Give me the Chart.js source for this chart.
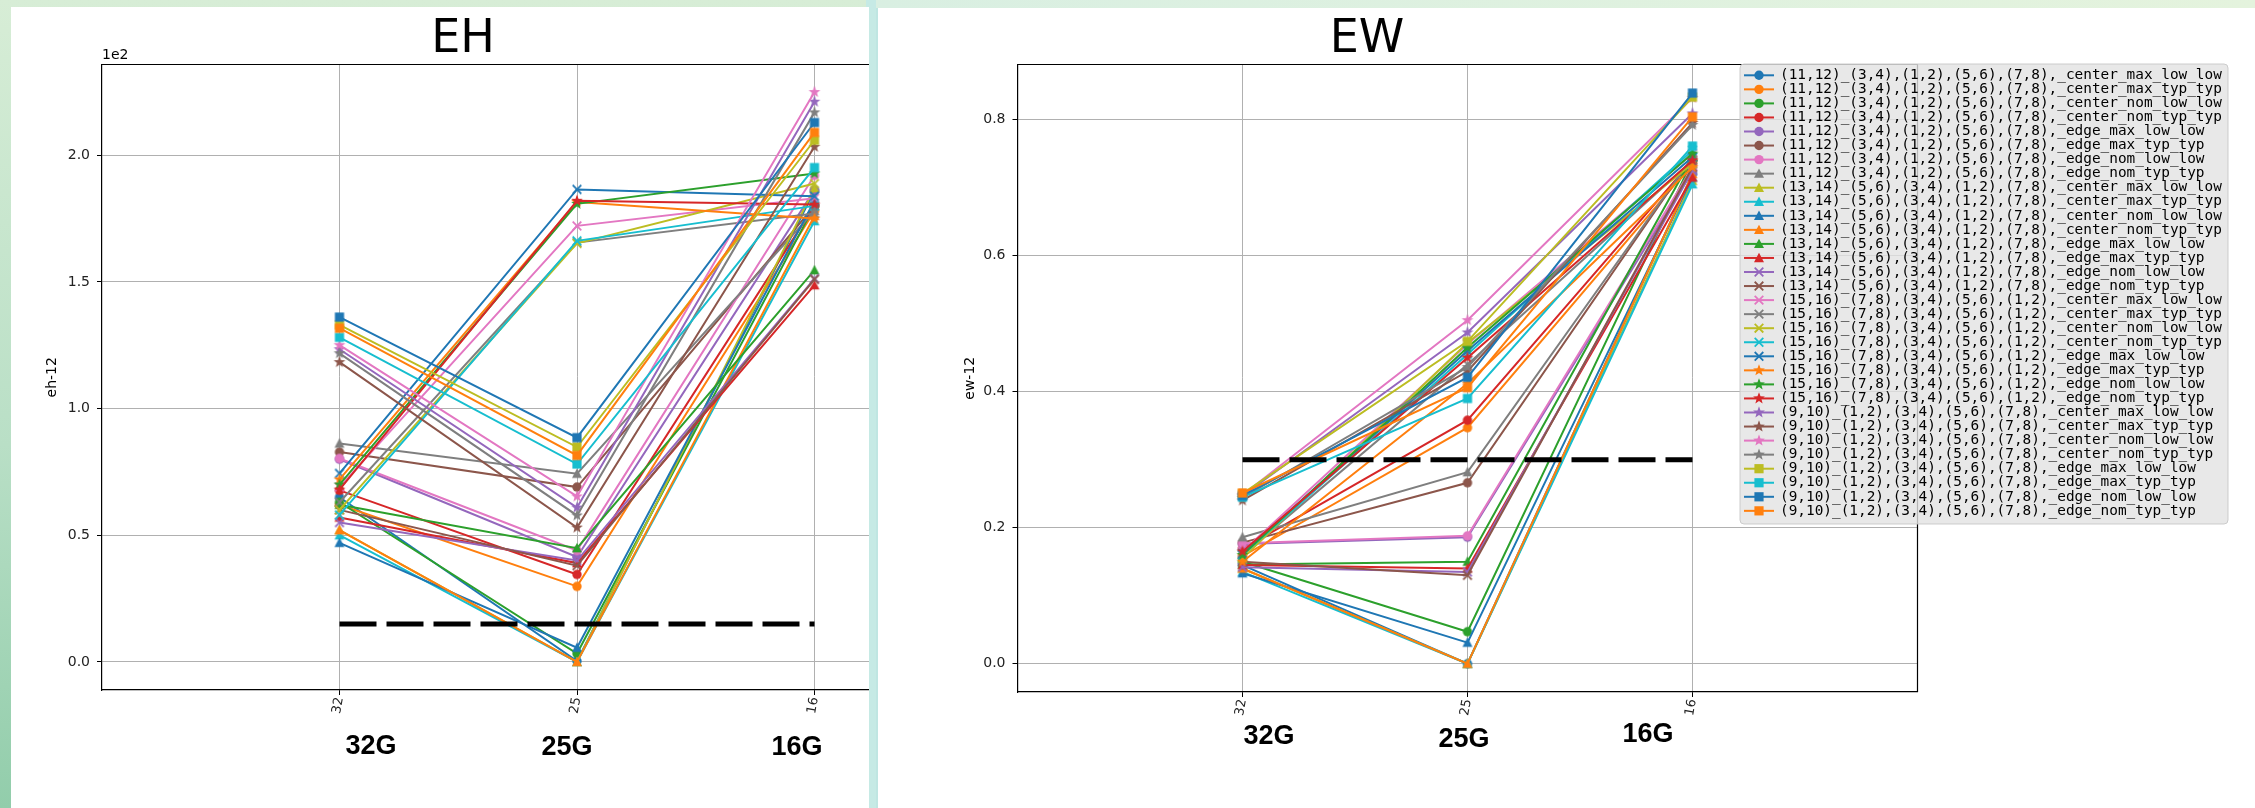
<!DOCTYPE html>
<html><head><meta charset="utf-8">
<script src="https://cdn.jsdelivr.net/npm/chart.js@4.4.0/dist/chart.umd.min.js"></script>
<style>
html,body{margin:0;padding:0;}
body{width:2255px;height:808px;overflow:hidden;position:relative;
 background:linear-gradient(180deg,#d7edd6 0%,#b9dfc6 55%,#92cdab 100%);}
#gap{position:absolute;left:866px;top:0;width:12px;height:808px;background:#c6eae5;}
#topr{position:absolute;left:876px;top:0;width:1379px;height:8px;background:linear-gradient(90deg,#d9efe2,#e4f3dd);}
.panel{position:absolute;background:#fff;overflow:hidden;}
#pl{left:11px;top:7px;width:858px;height:801px;}
#pr{left:876px;top:8px;width:1379px;height:800px;border-left:2px solid #bfe6e2;}
canvas{position:absolute;}
</style></head>
<body>
<div id="gap"></div><div id="topr"></div>
<div class="panel" id="pl"><canvas id="cl" width="2255" height="808" style="left:-11px;top:-7px;width:2255px;height:808px"></canvas></div>
<div class="panel" id="pr"><canvas id="cr" width="2255" height="808" style="left:-878px;top:-8px;width:2255px;height:808px"></canvas></div>
<script>
// ---------------- data ----------------
const categories = ['32', '25', '16'];
const groupLabels = ['32G', '25G', '16G'];
const seriesNames = [
 '(11,12)_(3,4),(1,2),(5,6),(7,8),_center_max_low_low',
 '(11,12)_(3,4),(1,2),(5,6),(7,8),_center_max_typ_typ',
 '(11,12)_(3,4),(1,2),(5,6),(7,8),_center_nom_low_low',
 '(11,12)_(3,4),(1,2),(5,6),(7,8),_center_nom_typ_typ',
 '(11,12)_(3,4),(1,2),(5,6),(7,8),_edge_max_low_low',
 '(11,12)_(3,4),(1,2),(5,6),(7,8),_edge_max_typ_typ',
 '(11,12)_(3,4),(1,2),(5,6),(7,8),_edge_nom_low_low',
 '(11,12)_(3,4),(1,2),(5,6),(7,8),_edge_nom_typ_typ',
 '(13,14)_(5,6),(3,4),(1,2),(7,8),_center_max_low_low',
 '(13,14)_(5,6),(3,4),(1,2),(7,8),_center_max_typ_typ',
 '(13,14)_(5,6),(3,4),(1,2),(7,8),_center_nom_low_low',
 '(13,14)_(5,6),(3,4),(1,2),(7,8),_center_nom_typ_typ',
 '(13,14)_(5,6),(3,4),(1,2),(7,8),_edge_max_low_low',
 '(13,14)_(5,6),(3,4),(1,2),(7,8),_edge_max_typ_typ',
 '(13,14)_(5,6),(3,4),(1,2),(7,8),_edge_nom_low_low',
 '(13,14)_(5,6),(3,4),(1,2),(7,8),_edge_nom_typ_typ',
 '(15,16)_(7,8),(3,4),(5,6),(1,2),_center_max_low_low',
 '(15,16)_(7,8),(3,4),(5,6),(1,2),_center_max_typ_typ',
 '(15,16)_(7,8),(3,4),(5,6),(1,2),_center_nom_low_low',
 '(15,16)_(7,8),(3,4),(5,6),(1,2),_center_nom_typ_typ',
 '(15,16)_(7,8),(3,4),(5,6),(1,2),_edge_max_low_low',
 '(15,16)_(7,8),(3,4),(5,6),(1,2),_edge_max_typ_typ',
 '(15,16)_(7,8),(3,4),(5,6),(1,2),_edge_nom_low_low',
 '(15,16)_(7,8),(3,4),(5,6),(1,2),_edge_nom_typ_typ',
 '(9,10)_(1,2),(3,4),(5,6),(7,8),_center_max_low_low',
 '(9,10)_(1,2),(3,4),(5,6),(7,8),_center_max_typ_typ',
 '(9,10)_(1,2),(3,4),(5,6),(7,8),_center_nom_low_low',
 '(9,10)_(1,2),(3,4),(5,6),(7,8),_center_nom_typ_typ',
 '(9,10)_(1,2),(3,4),(5,6),(7,8),_edge_max_low_low',
 '(9,10)_(1,2),(3,4),(5,6),(7,8),_edge_max_typ_typ',
 '(9,10)_(1,2),(3,4),(5,6),(7,8),_edge_nom_low_low',
 '(9,10)_(1,2),(3,4),(5,6),(7,8),_edge_nom_typ_typ'
];
// EH values (axis shows them x1e2)
const eh32 = [65, 62, 63, 67.7, 80, 82.8, 80.3, 86.2, 52, 50, 47, 52, 62, 57, 55, 60,
              69, 63, 60, 58, 74.4, 72, 70, 68, 123.4, 118.3, 125, 121.8, 133, 128.1, 136.1, 131.7];
const eh25 = [0.3, 29.8, 3.3, 34.5, 41.4, 69, 44, 74.3, 0, 0, 5.6, 0, 44.9, 39, 40, 38,
              172.1, 165.5, 165.2, 166.2, 186.5, 181.5, 180.8, 182, 60.9, 53, 65.3, 57.8, 84.8, 78.1, 88.5, 81.5];
const eh16 = [186, 178, 180, 180, 186.2, 180, 192, 178, 187, 174, 182, 176, 154.6, 148.7, 151.3, 151,
              183, 177, 188.8, 180, 183.8, 175, 192.8, 180.5, 221.1, 203.3, 224.9, 216.9, 205.9, 195.1, 212.9, 209];
const ehThreshold = 15;
// EW values
const ew32 = [0.145, 0.158, 0.150, 0.169, 0.176, 0.178, 0.177, 0.186, 0.140, 0.135, 0.133, 0.140, 0.146, 0.145, 0.142, 0.150,
              0.165, 0.160, 0.155, 0.160, 0.162, 0.150, 0.160, 0.165, 0.247, 0.240, 0.248, 0.244, 0.250, 0.245, 0.247, 0.251];
const ew25 = [0.0, 0.347, 0.047, 0.358, 0.186, 0.266, 0.188, 0.2816, 0.0, 0.0, 0.031, 0.0, 0.150, 0.140, 0.135, 0.130,
              0.470, 0.440, 0.472, 0.455, 0.460, 0.412, 0.465, 0.450, 0.487, 0.430, 0.505, 0.436, 0.474, 0.390, 0.421, 0.406];
const ew16 = [0.720, 0.735, 0.740, 0.740, 0.725, 0.745, 0.730, 0.745, 0.710, 0.705, 0.715, 0.720, 0.745, 0.715, 0.725, 0.730,
              0.750, 0.740, 0.735, 0.755, 0.745, 0.730, 0.750, 0.740, 0.809, 0.795, 0.832, 0.792, 0.833, 0.761, 0.839, 0.804];
const ewThreshold = 0.3;
const ehTicks = [0, 50, 100, 150, 200];
const ewTicks = [0, 0.2, 0.4, 0.6, 0.8];

// ---------------- styles ----------------
const palette = ['#1f77b4','#ff7f0e','#2ca02c','#d62728','#9467bd','#8c564b','#e377c2','#7f7f7f','#bcbd22','#17becf'];
function markerKind(i){ return i < 7 ? 'o' : i < 14 ? '^' : i < 21 ? 'x' : i < 28 ? '*' : 's'; }
function drawMarker(ctx, kind, x, y, color){
  ctx.fillStyle = color; ctx.strokeStyle = color; ctx.lineWidth = 1;
  ctx.beginPath();
  if (kind === 'o') { ctx.arc(x, y, 4.7, 0, Math.PI*2); ctx.fill(); }
  else if (kind === '^') { ctx.moveTo(x, y-5.2); ctx.lineTo(x+5, y+4.2); ctx.lineTo(x-5, y+4.2); ctx.closePath(); ctx.fill(); }
  else if (kind === 'x') { ctx.lineWidth = 1.8; ctx.moveTo(x-4.3,y-4.3); ctx.lineTo(x+4.3,y+4.3); ctx.moveTo(x+4.3,y-4.3); ctx.lineTo(x-4.3,y+4.3); ctx.stroke(); }
  else if (kind === '*') {
    for (let k=0;k<10;k++){ const r = k%2===0 ? 6.2 : 2.6; const a = -Math.PI/2 + k*Math.PI/5;
      const px = x + r*Math.cos(a), py = y + r*Math.sin(a); if(k===0) ctx.moveTo(px,py); else ctx.lineTo(px,py); }
    ctx.closePath(); ctx.fill();
  }
  else { ctx.rect(x-4.6, y-4.6, 9.2, 9.2); ctx.fill(); }
}
const markerImgs = seriesNames.map((n,i)=>{
  const c = document.createElement('canvas'); c.width = 16; c.height = 16;
  drawMarker(c.getContext('2d'), markerKind(i), 8, 8, palette[i%10]); return c;
});

const decor = {
  id: 'decor',
  afterDraw(chart, args, o){
    const ctx = chart.ctx, a = chart.chartArea;
    ctx.save();
    ctx.strokeStyle = '#000'; ctx.lineWidth = 1.2;
    ctx.beginPath(); ctx.moveTo(a.left, a.top); ctx.lineTo(a.right, a.top); ctx.lineTo(a.right, a.bottom); ctx.stroke();
    ctx.fillStyle = '#000';
    ctx.font = '46px "DejaVu Sans"'; ctx.textAlign = 'center'; ctx.textBaseline = 'alphabetic';
    ctx.fillText(o.title, o.titleX, 51.5);
    if (o.offset) { ctx.font = '14px "DejaVu Sans"'; ctx.textAlign = 'left'; ctx.fillText(o.offset, a.left, 59); }
    ctx.save(); ctx.translate(o.ylabelX, (a.top + a.bottom)/2); ctx.rotate(-Math.PI/2);
    ctx.font = '14px "DejaVu Sans"'; ctx.textAlign = 'center'; ctx.textBaseline = 'middle'; ctx.fillText(o.ylabel, 0, 0); ctx.restore();
    ctx.font = 'bold 27px "Liberation Sans"'; ctx.textAlign = 'center'; ctx.textBaseline = 'middle';
    groupLabels.forEach((t,k)=>ctx.fillText(t, o.gPos[k][0], o.gPos[k][1]));
    if (o.legend) {
      const L = o.legend;
      ctx.fillStyle = 'rgba(226,226,226,0.8)'; ctx.strokeStyle = 'rgba(200,200,200,0.9)'; ctx.lineWidth = 1;
      ctx.beginPath();
      if (ctx.roundRect) ctx.roundRect(L.x, L.y, L.w, L.h, 4); else ctx.rect(L.x, L.y, L.w, L.h);
      ctx.fill(); ctx.stroke();
      ctx.font = '14.4px "DejaVu Sans Mono"'; ctx.textAlign = 'left'; ctx.textBaseline = 'middle';
      chart.data.datasets.forEach((d,i)=>{
        if (i >= seriesNames.length) return;
        const ry = L.y0 + i*L.step;
        ctx.strokeStyle = palette[i%10]; ctx.lineWidth = 2;
        ctx.beginPath(); ctx.moveTo(L.lx0, ry); ctx.lineTo(L.lx1, ry); ctx.stroke();
        drawMarker(ctx, markerKind(i), (L.lx0+L.lx1)/2, ry, palette[i%10]);
        ctx.fillStyle = '#000'; ctx.fillText(d.label, L.tx, ry);
      });
    }
    ctx.restore();
  }
};

function build(id, v32, v25, v16, thr, yMin, yMax, yTicks, fmt, area, yW, deco){
  const cols = [v32, v25, v16];
  const datasets = seriesNames.map((name,i)=>({
    label: name,
    data: categories.map((c,j)=>({x:j, y:cols[j][i]})),
    borderColor: palette[i%10], backgroundColor: palette[i%10],
    borderWidth: 2, pointStyle: markerImgs[i], pointRadius: 5, tension: 0,
    order: 100 - i
  }));
  datasets.push({label:'threshold', data:[{x:0,y:thr},{x:categories.length-1,y:thr}],
    borderColor:'#000', borderWidth:5, borderDash:[37,10], borderCapStyle:'butt', pointRadius:0, order:0});
  const tickFont = {family:'DejaVu Sans', size:14};
  return new Chart(document.getElementById(id), {
    type:'line',
    data:{datasets},
    options:{
      responsive:false, animation:false, devicePixelRatio:1,
      layout:{padding:{left: area.left - yW, right: 2255 - area.right, top: area.top, bottom: 0}},
      plugins:{legend:{display:false}, tooltip:{enabled:false}, decor: deco},
      scales:{
        x:{type:'linear', min:-1, max:3,
          afterBuildTicks:s=>{ s.ticks = categories.map((c,j)=>({value:j})); },
          afterFit:s=>{ s.height = 808 - area.bottom; },
          ticks:{callback:v=>categories[v], minRotation:80, maxRotation:80, font:{family:'DejaVu Sans', size:13}, color:'#222', padding:1},
          grid:{color:'#b0b0b0', lineWidth:1, tickLength:5, tickColor:'#000', drawTicks:true},
          border:{display:true, color:'#000', width:1.2}
        },
        y:{type:'linear', min:yMin, max:yMax,
          afterBuildTicks:s=>{ s.ticks = yTicks.map(v=>({value:v})); },
          afterFit:s=>{ s.width = yW; },
          ticks:{callback:fmt, font:tickFont, color:'#222', padding:7},
          grid:{color:'#b0b0b0', lineWidth:1, tickLength:5, tickColor:'#000', drawTicks:true},
          border:{display:true, color:'#000', width:1.2}
        }
      }
    },
    plugins:[decor]
  });
}

build('cl', eh32, eh25, eh16, ehThreshold, -11.1, 235.8, ehTicks, v=>(v/100).toFixed(1),
  {left:102, right:1052, top:64.5, bottom:690}, 102,
  {title:'EH', titleX:463, offset:'1e2', ylabel:'eh-12', ylabelX:52,
   gPos:[[371,747],[567,748],[797,748]]});

build('cr', ew32, ew25, ew16, ewThreshold, -0.0416, 0.881, ewTicks, v=>v.toFixed(1),
  {left:1017.5, right:1917.5, top:64.5, bottom:692}, 100,
  {title:'EW', titleX:1367, ylabel:'ew-12', ylabelX:970,
   gPos:[[1269,737],[1464,740],[1648,734.5]],
   legend:{x:1740, y:64, w:488, h:460, y0:75.3, step:14.05, lx0:1744, lx1:1774, tx:1780}});
</script>
</body></html>
